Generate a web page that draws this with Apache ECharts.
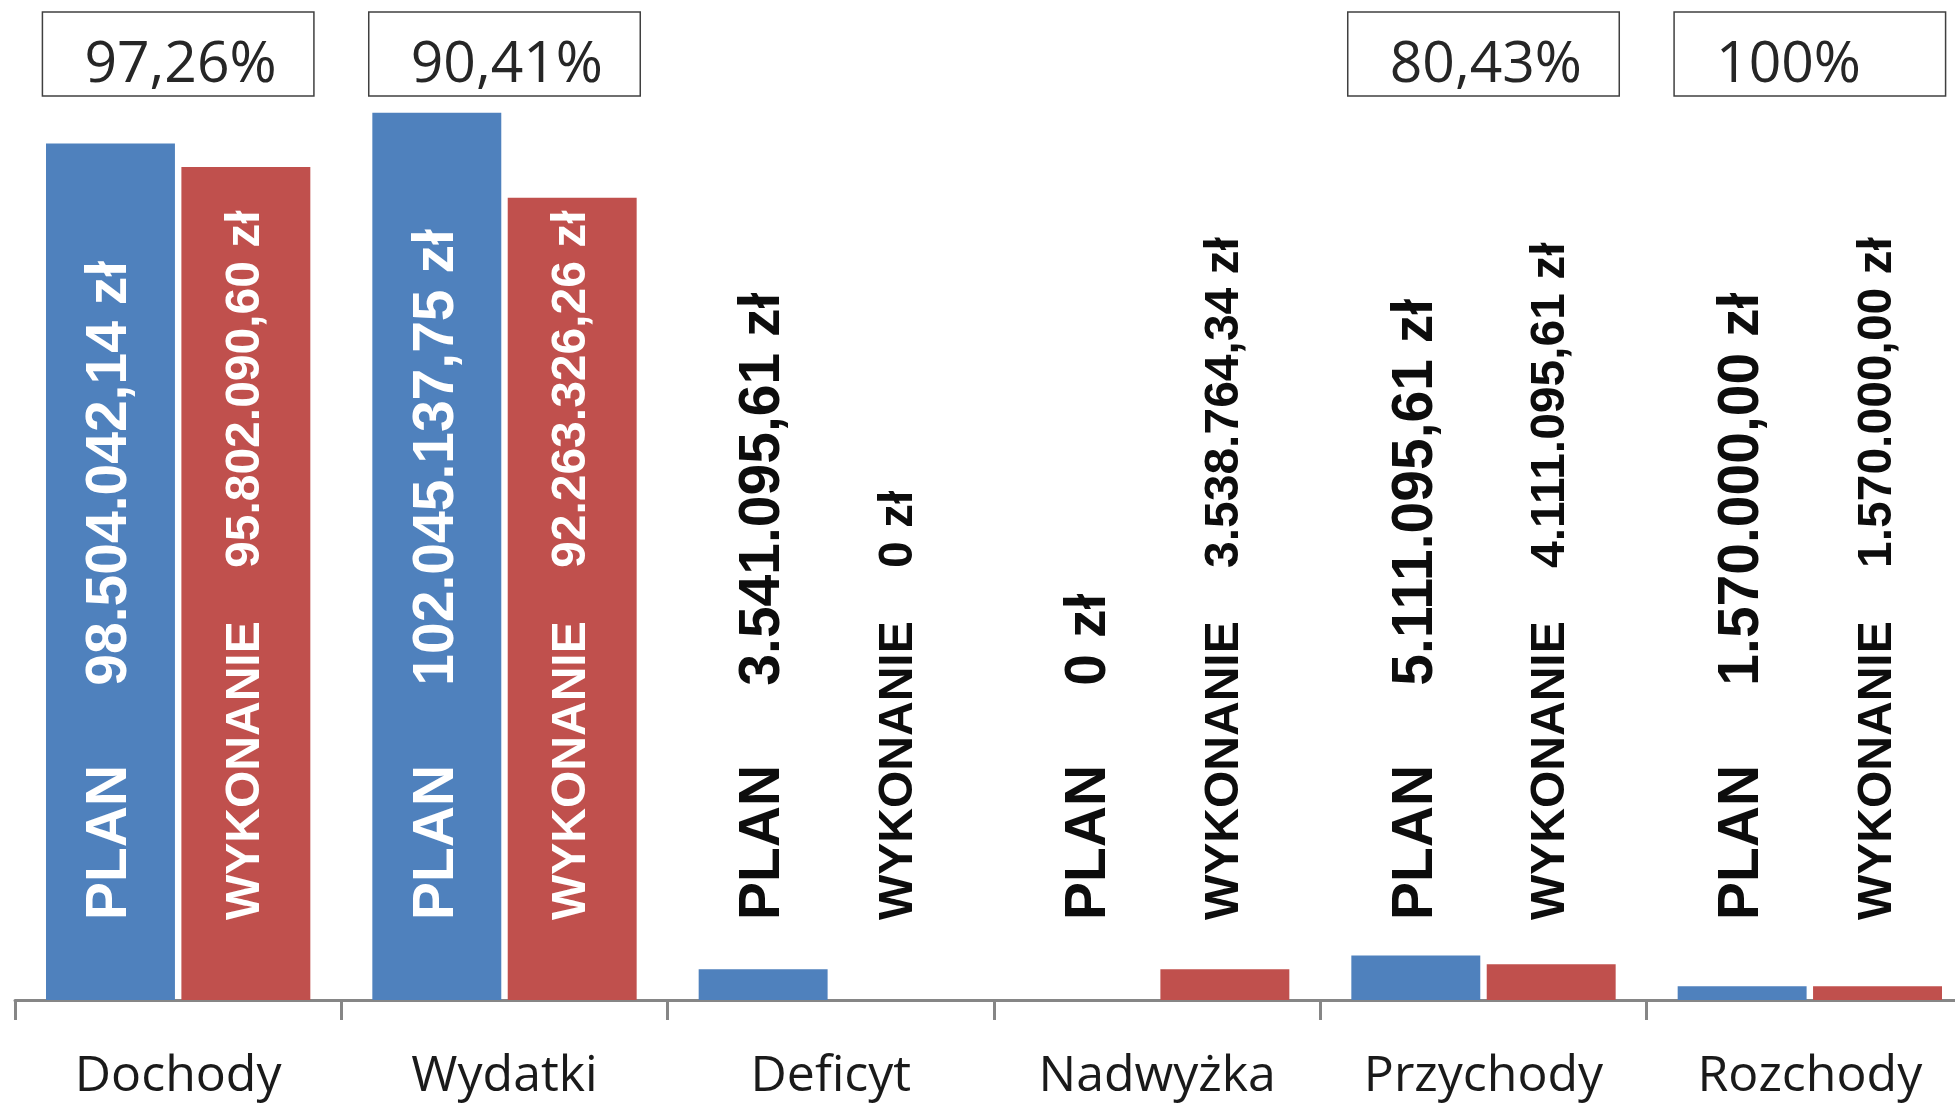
<!DOCTYPE html>
<html>
<head>
<meta charset="utf-8">
<script src="https://cdn.jsdelivr.net/npm/echarts@6/dist/echarts.min.js"></script>
<style>
html,body{margin:0;padding:0;background:#fff;}
#chart{width:1955px;height:1104px;}
</style>
</head>
<body>
<div id="chart"></div>
<script>
const categories = ['Dochody', 'Wydatki', 'Deficyt', 'Nadwyżka', 'Przychody', 'Rozchody'];
const planValues = [98504042.14, 102045137.75, 3541095.61, 0, 5111095.61, 1570000.00];
const wykonanieValues = [95802090.60, 92263326.26, 0, 3538764.34, 4111095.61, 1570000.00];
const percentLabels = ['97,26%', '90,41%', null, null, '80,43%', '100%'];

function fmtZl(v) {
  if (v === 0) return '0 zł';
  const parts = v.toFixed(2).split('.');
  const intPart = parts[0].replace(/\B(?=(\d{3})+(?!\d))/g, '.');
  return intPart + ',' + parts[1] + ' zł';
}

const BIG = 50e6;
function makeData(values) {
  return values.map(v => ({
    value: v,
    label: { color: v > BIG ? '#ffffff' : '#0d0d0d' }
  }));
}

const chart = echarts.init(document.getElementById('chart'), null, { renderer: 'canvas' });

const labelBase = {
  show: true,
  position: 'insideBottom',
  distance: 80,
  rotate: 90,
  align: 'left',
  verticalAlign: 'middle',
  fontFamily: 'Liberation Sans, Arial, sans-serif',
  fontWeight: 'bold'
};

const option = {
  animation: false,
  backgroundColor: '#ffffff',
  grid: {
    left: 15, width: 1958, top: 43.5, bottom: 104,
    containLabel: false, outerBoundsMode: 'none'
  },
  xAxis: {
    type: 'category',
    data: categories,
    boundaryGap: true,
    axisLine: { show: true, lineStyle: { color: '#868686', width: 3 } },
    axisTick: { show: true, length: 20, interval: 0, lineStyle: { color: '#868686', width: 3 } },
    axisLabel: {
      interval: 0,
      margin: 52,
      fontFamily: 'Open Sans, sans-serif',
      fontSize: 50,
      lineHeight: 50,
      color: '#1a1a1a'
    }
  },
  yAxis: {
    type: 'value',
    min: 0,
    max: 110e6,
    show: false,
    splitLine: { show: false }
  },
  series: [
    {
      name: 'PLAN',
      type: 'bar',
      data: makeData(planValues),
      barCategoryGap: '19%',
      barGap: '5%',
      itemStyle: { color: '#4F81BD' },
      label: Object.assign({}, labelBase, {
        fontSize: 57,
        formatter: p => 'PLAN     ' + fmtZl(p.value)
      })
    },
    {
      name: 'WYKONANIE',
      type: 'bar',
      data: makeData(wykonanieValues),
      barCategoryGap: '19%',
      barGap: '5%',
      itemStyle: { color: '#C0504D' },
      label: Object.assign({}, labelBase, {
        fontSize: 48,
        formatter: p => 'WYKONANIE    ' + fmtZl(p.value)
      })
    },
    {
      name: 'percent',
      type: 'custom',
      clip: false,
      silent: true,
      data: percentLabels.map((p, i) => [i, 0]),
      encode: { x: 0, y: 1 },
      renderItem: function (params, api) {
        const idx = api.value(0);
        const txt = percentLabels[idx];
        if (!txt) return null;
        const cx = api.coord([idx, 0])[0];
        const bw = api.size([1, 0])[0];
        const w = bw * 0.832;
        const x0 = cx - w / 2;
        return {
          type: 'group',
          children: [
            {
              type: 'rect',
              shape: { x: x0, y: 12, width: w, height: 84 },
              style: { fill: '#ffffff', stroke: '#404040', lineWidth: 1.5 }
            },
            {
              type: 'text',
              style: {
                text: txt,
                x: x0 + 42,
                y: 66,
                align: 'left',
                verticalAlign: 'middle',
                fontFamily: 'Open Sans, sans-serif',
                fontSize: 57,
                fill: '#262626'
              }
            }
          ]
        };
      }
    }
  ]
};

chart.setOption(option);
</script>
</body>
</html>
